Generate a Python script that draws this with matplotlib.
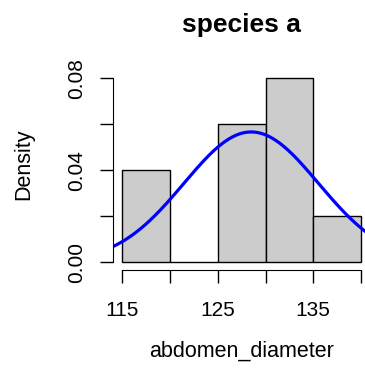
import matplotlib
matplotlib.use("Agg")
import matplotlib.pyplot as plt
import numpy as np

# histogram of abdomen diameter, species a
bin_edges = [115, 120, 125, 130, 135, 140]
densities = [0.04, 0.0, 0.06, 0.08, 0.02]
# fitted normal curve
fit_mean = 128.5
fit_sd = 7.04

x_ticks = [115, 120, 125, 130, 135, 140]
x_labels = ["115", "", "125", "", "135", ""]
y_ticks = [0.0, 0.02, 0.04, 0.06, 0.08]
y_labels = ["0.00", "", "0.04", "", "0.08"]

plt.rcParams['font.family'] = ['Liberation Sans', 'DejaVu Sans']

fig = plt.figure(figsize=(3.65, 3.75), dpi=100)
ax = fig.add_axes([0.3089, 0.2808, 0.7063, 0.5301])

lefts = bin_edges[:-1]
widths = np.diff(bin_edges)
ax.bar(lefts, densities, width=widths, align='edge',
       color='#CCCCCC', edgecolor='black', linewidth=1.0)

xs = np.linspace(113, 142, 300)
ys = np.exp(-0.5 * ((xs - fit_mean) / fit_sd) ** 2) / (fit_sd * np.sqrt(2 * np.pi))
ax.plot(xs, ys, color='blue', linewidth=2.3)

ax.set_xlim(114, 141)
ax.set_ylim(-0.0032, 0.0832)

for side in ['top', 'right']:
    ax.spines[side].set_visible(False)
ax.spines['left'].set_bounds(0, 0.08)
ax.spines['bottom'].set_bounds(115, 140)

ax.set_xticks(x_ticks)
ax.set_xticklabels(x_labels)
ax.set_yticks(y_ticks)
ax.set_yticklabels(y_labels, rotation=90, va='center')
ax.tick_params(direction='out', length=9.4, width=1, labelsize=15)
ax.tick_params(axis='x', pad=13)
ax.tick_params(axis='y', pad=10)

ax.set_xlabel('abdomen_diameter', fontsize=15.5, labelpad=15)
ax.set_ylabel('Density', fontsize=15.5)
ax.yaxis.set_label_coords(-0.3055, 0.529)
ax.set_title('species a', fontsize=19, fontweight='bold', pad=28)

fig.savefig('out.png', dpi=100)
